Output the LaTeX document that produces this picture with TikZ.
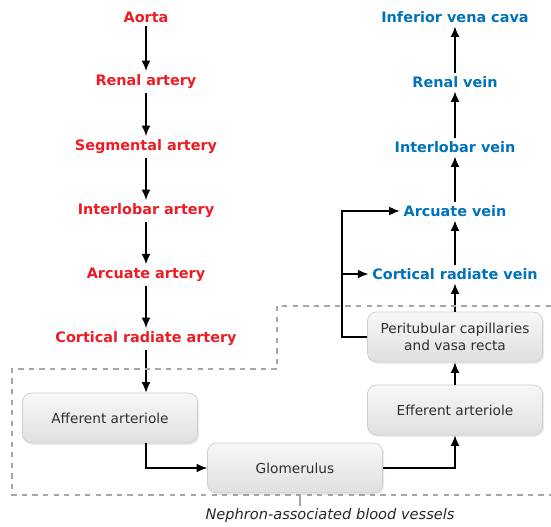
\documentclass[tikz,border=0pt]{standalone}
\usepackage{fontspec}
\setmainfont{DejaVu Sans}
\definecolor{artred}{RGB}{237,28,36}
\definecolor{veinblue}{RGB}{0,114,188}
\definecolor{boxgray}{RGB}{224,224,224}
\definecolor{edgegray}{RGB}{205,205,205}
\usetikzlibrary{arrows.meta,positioning,shadows}

\begin{document}
\begin{tikzpicture}[x=0.02cm,y=-0.02cm,
  artery/.style={font=\fontsize{8.2}{10}\selectfont\bfseries,text=artred,inner sep=2pt},
  vein/.style={font=\fontsize{8.2}{10}\selectfont\bfseries,text=veinblue,inner sep=2pt},
  vessel/.style={draw=edgegray,rounded corners=5pt,top color=gray!6,bottom color=boxgray,
    minimum width=3.5cm,minimum height=1cm,align=center,text=black!82,
    font=\fontsize{7.8}{10}\selectfont,drop shadow={opacity=0.15,shadow xshift=1pt,shadow yshift=-1pt}},
  flow/.style={-{Latex[length=6pt,width=5pt]},line width=0.75pt,black},
  nephron/.style={dashed,gray!70,line width=0.6pt}
]
  \useasboundingbox (0,0) rectangle (551,527);
  % arteries
  \node[artery] (aorta)    at (146,17)  {Aorta};
  \node[artery] (renart)   at (146,82)  {Renal artery};
  \node[artery] (segart)   at (146,147) {Segmental artery};
  \node[artery] (ilobart)  at (146,211) {Interlobar artery};
  \node[artery] (arcart)   at (146,275) {Arcuate artery};
  \node[artery] (crart)    at (146,339) {Cortical radiate artery};
  % veins
  \node[vein] (ivc)        at (455,17)  {Inferior vena cava};
  \node[vein] (renvein)    at (455,82)  {Renal vein};
  \node[vein] (ilobvein)   at (455,147) {Interlobar vein};
  \node[vein] (arcvein)    at (455,211) {Arcuate vein};
  \node[vein] (crvein)     at (455,274) {Cortical radiate vein};
  % nephron vessels
  \node[vessel] (aff)  at (110,418) {Afferent arteriole};
  \node[vessel] (glom) at (295,468) {Glomerulus};
  \node[vessel] (eff)  at (455,410) {Efferent arteriole};
  \node[vessel] (peri) at (455,337) {Peritubular capillaries\\and vasa recta};

  % arterial side
  \draw[flow] (aorta) -- (renart);
  \draw[flow] (renart) -- (segart);
  \draw[flow] (segart) -- (ilobart);
  \draw[flow] (ilobart) -- (arcart);
  \draw[flow] (arcart) -- (crart);
  \draw[flow] (crart) -- (crart |- aff.north);
  \draw[flow] (aff.south -| crart) |- (glom.west);
  \draw[flow] (glom.east) -| (eff.south);
  \draw[flow] (eff) -- (peri);
  % venous side
  \draw[flow] (peri) -- (crvein);
  \draw[flow] (crvein) -- (arcvein);
  \draw[flow] (arcvein) -- (ilobvein);
  \draw[flow] (ilobvein) -- (renvein);
  \draw[flow] (renvein) -- (ivc);
  \coordinate (bus) at (342,0);
  \draw[flow] (peri.west) -- (peri.west -| bus) |- (arcvein.west);
  \draw[flow] (bus |- crvein.west) -- (crvein.west);

  % nephron boundary
  \draw[nephron] (551,306) -- (277,306) -- (277,369) -- (12,369) -- (12,495) -- (551,495);
  \node[font=\fontsize{8.3}{10}\selectfont\itshape,text=black!85,inner sep=1pt] (nephlabel) at (330,515)
    {Nephron-associated blood vessels};
  \coordinate (tick) at (300,495);
  \draw[gray!70,line width=0.6pt] (tick) -- (tick |- nephlabel.north);
\end{tikzpicture}
\end{document}
